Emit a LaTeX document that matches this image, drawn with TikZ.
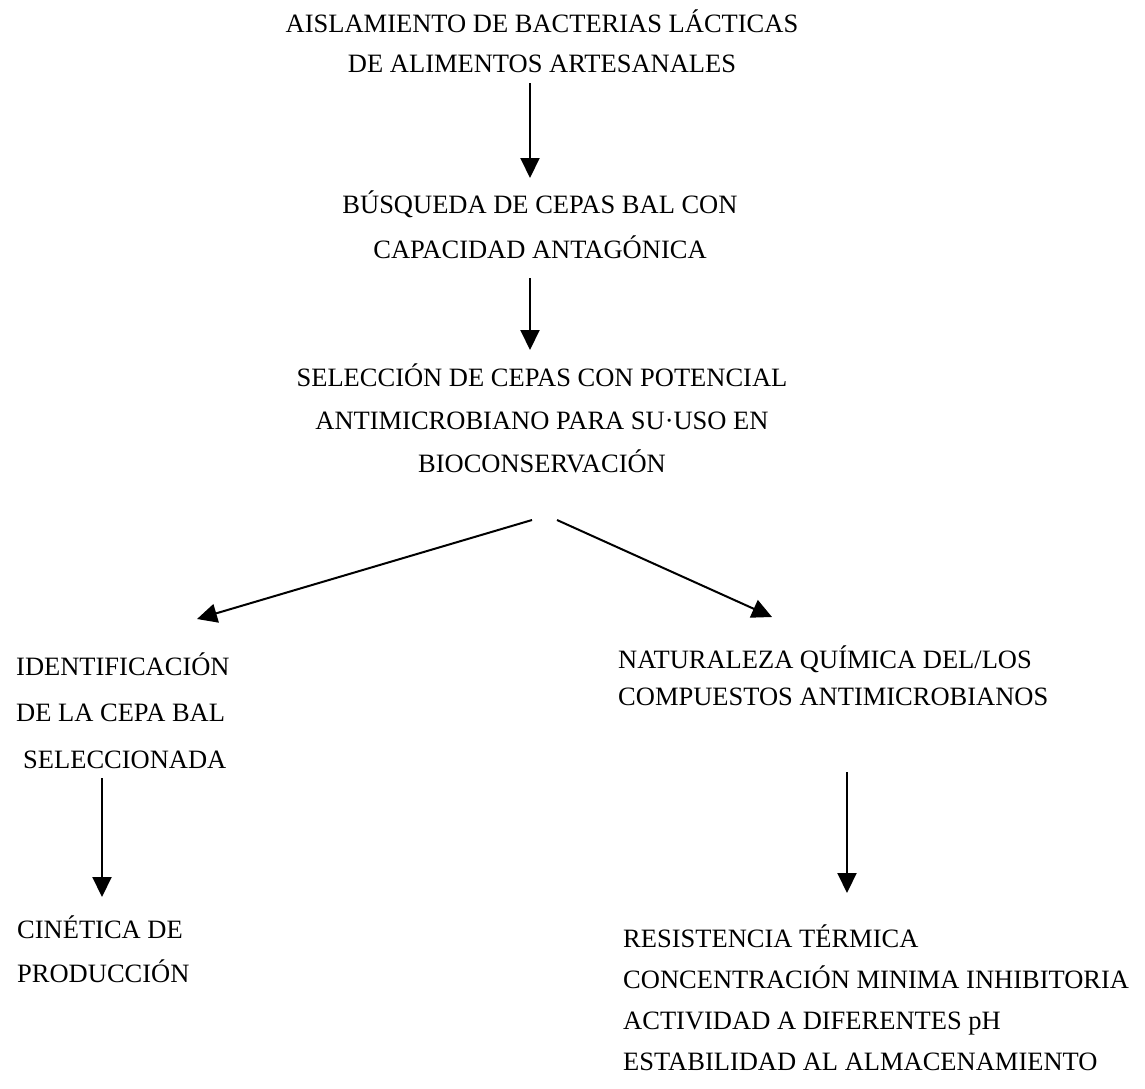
\documentclass[tikz,border=0pt]{standalone}
\usepackage{fontspec}
\setmainfont{Liberation Serif}
\usetikzlibrary{arrows.meta}
\begin{document}
\begin{tikzpicture}[x=1pt,y=-1pt,
  lbl/.style={inner sep=0pt, font=\fontsize{26.5}{40}\selectfont},
  arr/.style={line width=2pt, -{Triangle[length=20pt,width=19pt]}}]
\useasboundingbox[fill=white] (0,0) rectangle (1145,1088);

% anchor=base is the baseline of the last line
\node[lbl, anchor=base, align=center, font=\fontsize{26.5}{40}\selectfont] (top) at (542,72)
  {AISLAMIENTO DE BACTERIAS LÁCTICAS\\DE ALIMENTOS ARTESANALES};
\node[lbl, anchor=base, align=center, font=\fontsize{26.5}{45}\selectfont] (busq) at (540,258)
  {BÚSQUEDA DE CEPAS BAL CON\\CAPACIDAD ANTAGÓNICA};
\node[lbl, anchor=base, align=center, font=\fontsize{26.5}{43}\selectfont] (sel) at (542,472)
  {SELECCIÓN DE CEPAS CON POTENCIAL\\ANTIMICROBIANO PARA SU·USO EN\\BIOCONSERVACIÓN};
\node[lbl, anchor=base west, align=left, font=\fontsize{26.5}{46.5}\selectfont] (ident) at (16,768)
  {IDENTIFICACIÓN\\DE LA CEPA BAL\\\hspace*{7pt}SELECCIONADA};
\node[lbl, anchor=base west, align=left, font=\fontsize{26.5}{37}\selectfont] (nat) at (618,705)
  {NATURALEZA QUÍMICA DEL/LOS\\COMPUESTOS ANTIMICROBIANOS};
\node[lbl, anchor=base west, align=left, font=\fontsize{26.5}{44}\selectfont] (cin) at (17,982)
  {CINÉTICA DE\\PRODUCCIÓN};
\node[lbl, anchor=base west, align=left, font=\fontsize{26.5}{41}\selectfont] (res) at (623,1070)
  {RESISTENCIA TÉRMICA\\CONCENTRACIÓN MINIMA INHIBITORIA\\ACTIVIDAD A DIFERENTES pH\\ESTABILIDAD AL ALMACENAMIENTO};

\coordinate (a1s) at (530,83);  \coordinate (a1e) at (530,178);
\coordinate (a2s) at (530,278); \coordinate (a2e) at (530,350);
\coordinate (a3s) at (532,520); \coordinate (a3e) at (197,619);
\coordinate (a4s) at (557,520); \coordinate (a4e) at (772,617);
\coordinate (a5s) at (102,778); \coordinate (a5e) at (102,897);
\coordinate (a6s) at (847,772); \coordinate (a6e) at (847,893);

\draw[arr] (a1s) -- (a1e);
\draw[arr] (a2s) -- (a2e);
\draw[arr] (a3s) -- (a3e);
\draw[arr] (a4s) -- (a4e);
\draw[arr] (a5s) -- (a5e);
\draw[arr] (a6s) -- (a6e);
\end{tikzpicture}
\end{document}
